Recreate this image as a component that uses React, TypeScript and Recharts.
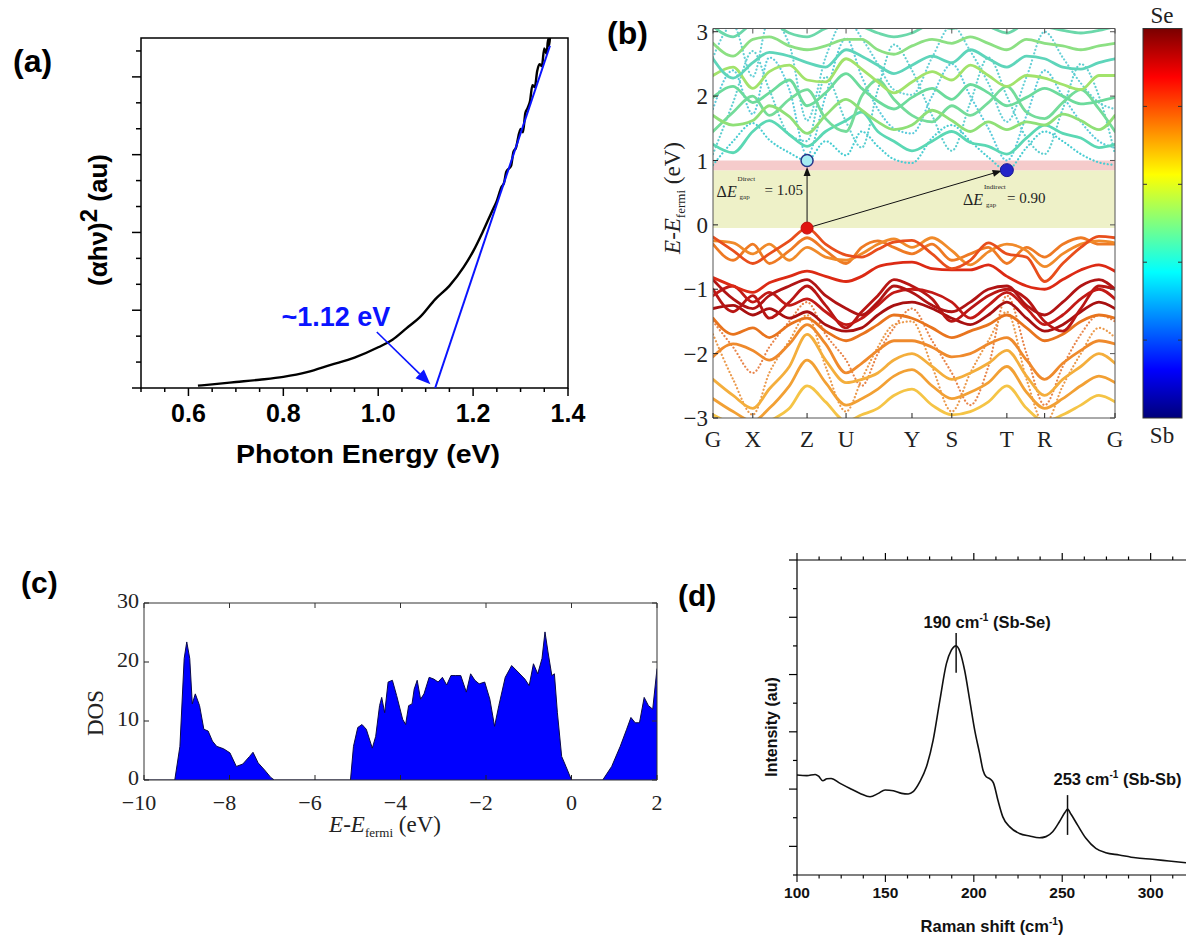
import React from "react";
import {
  Area,
  ComposedChart,
  Line,
  LineChart,
  ReferenceArea,
  ReferenceDot,
  ReferenceLine,
  XAxis,
  YAxis,
} from "recharts";

const SANS = "'Liberation Sans', Arial, sans-serif";
const SERIF = "'Liberation Serif', 'Times New Roman', serif";

// ---------- (a) Tauc plot ----------
const TAUC_E = [
  0.62, 0.65, 0.7, 0.75, 0.8, 0.85, 0.9, 0.95, 1.0, 1.03, 1.06, 1.09, 1.12, 1.15, 1.18, 1.2, 1.22, 1.24, 1.25, 1.26,
  1.265, 1.27, 1.28, 1.285, 1.29, 1.3, 1.305, 1.31, 1.315, 1.32, 1.325, 1.33, 1.335, 1.34, 1.345, 1.35, 1.355, 1.358,
  1.36, 1.362,
];
const TAUC_Y = [
  0.09, 0.14, 0.23, 0.32, 0.43, 0.61, 0.89, 1.17, 1.57, 1.86, 2.31, 2.77, 3.42, 3.94, 4.66, 5.27, 6.01, 6.82, 7.22, 7.76,
  7.9, 8.34, 8.57, 9.11, 9.25, 9.99, 9.86, 10.6, 10.8, 11.07, 11.68, 11.61, 12.22, 12.49, 12.42, 13.1, 12.89, 13.45,
  13.2, 13.5,
];
const GAP_EV = 1.12;
const FIT_E = [GAP_EV, 1.362];
const FIT_Y = [0, 13.2];
const A_X_TICKS = [
  0.5, 0.55, 0.6, 0.65, 0.7, 0.75, 0.8, 0.85, 0.9, 0.95, 1.0, 1.05, 1.1, 1.15, 1.2, 1.25, 1.3, 1.35, 1.4,
];
const A_X_LABELS = [0.6, 0.8, 1.0, 1.2, 1.4];
const A_Y_TICKS = [0, 1, 2, 3, 4, 5, 6, 7, 8, 9, 10, 11, 12, 13];
const A_Y_MAJOR = [0, 3, 6, 9, 12];

// ---------- (b) band structure ----------
const K = [
  0, 0.05, 0.099, 0.14, 0.19, 0.234, 0.28, 0.331, 0.37, 0.41, 0.45, 0.495, 0.545, 0.594, 0.64, 0.685, 0.731, 0.78,
  0.825, 0.87, 0.915, 0.96, 1,
];
const K_POINTS = [0, 0.099, 0.234, 0.331, 0.495, 0.594, 0.731, 0.825, 1];
const K_NAMES = ["G", "X", "Z", "U", "Y", "S", "T", "R", "G"];
const E_TICKS = [-3, -2, -1, 0, 1, 2, 3];

const CB1 = [0.93, 1.3, 1.58, 1.32, 1.12, 1.0, 1.3, 1.08, 1.45, 1.22, 1.02, 0.96, 1.35, 1.55, 1.3, 1.05, 0.85, 1.2, 1.45, 1.3, 1.1, 0.97, 0.93];
const CB2 = [1.25, 1.12, 1.45, 1.62, 1.4, 1.22, 1.45, 1.62, 1.75, 1.45, 1.3, 1.15, 1.3, 1.45, 1.28, 1.22, 1.1, 1.35, 1.55, 1.42, 1.35, 1.2, 1.25];
const CB3 = [1.7, 1.55, 1.62, 1.85, 1.68, 1.42, 1.7, 1.95, 1.78, 1.6, 1.48, 1.55, 1.78, 1.62, 1.45, 1.6, 1.48, 1.6, 1.55, 1.72, 1.62, 1.48, 1.7];
const CB4 = [1.98, 2.15, 1.9, 2.05, 2.25, 1.85, 2.05, 2.35, 2.12, 1.92, 1.8, 1.98, 2.12, 1.95, 2.18, 2.05, 1.85, 1.98, 2.12, 2.0, 1.88, 1.92, 1.98];
const CB5 = [2.32, 2.45, 2.12, 2.38, 2.48, 2.25, 2.22, 2.58, 2.42, 2.22, 2.05, 2.22, 2.38, 2.25, 2.48, 2.32, 2.15, 2.32, 2.28, 2.18, 2.1, 2.32, 2.32];
const CB6 = [2.58, 2.28, 2.52, 2.68, 2.62, 2.52, 2.45, 2.72, 2.62, 2.48, 2.35, 2.48, 2.62, 2.52, 2.72, 2.58, 2.45, 2.62, 2.58, 2.45, 2.42, 2.52, 2.58];
const CB7 = [2.82, 2.62, 2.88, 2.92, 2.78, 2.72, 2.78, 2.88, 2.88, 2.72, 2.65, 2.78, 2.88, 2.82, 2.92, 2.82, 2.72, 2.88, 2.82, 2.78, 2.72, 2.78, 2.82];
const CB8 = [3.08, 2.92, 3.12, 3.15, 2.98, 2.92, 3.05, 3.12, 3.08, 2.98, 2.92, 2.98, 3.12, 3.05, 3.12, 3.08, 2.98, 3.12, 3.08, 3.02, 2.98, 3.02, 3.08];
const CB9 = [1.45, 1.75, 2.0, 1.7, 1.95, 2.1, 1.65, 1.45, 2.0, 2.25, 1.95, 1.7, 1.6, 1.85, 1.7, 1.9, 2.15, 1.75, 1.65, 1.9, 2.1, 1.8, 1.45];
const CBD1 = [1.8, 2.4, 1.72, 2.6, 2.1, 1.08, 2.0, 2.9, 2.3, 1.8, 1.5, 1.42, 2.0, 2.5, 2.0, 1.5, 1.0, 1.7, 2.4, 2.0, 1.6, 1.3, 1.2];
const CBD2 = [2.6, 3.1, 2.3, 3.2, 2.8, 1.62, 2.6, 3.2, 2.9, 2.5, 2.1, 2.02, 2.6, 3.1, 2.7, 2.2, 1.6, 2.3, 3.0, 2.6, 2.2, 1.9, 1.8];
const CBD3 = [1.1, 1.9, 2.7, 2.1, 1.4, 1.3, 2.3, 1.6, 1.2, 2.1, 2.8, 2.4, 1.7, 1.15, 1.9, 2.6, 2.0, 1.35, 1.1, 1.8, 2.5, 2.0, 1.1];

const VB1 = [-0.19, -0.4, -0.6, -0.45, -0.25, -0.05, -0.3, -0.47, -0.5, -0.38, -0.27, -0.24, -0.45, -0.68, -0.55, -0.28, -0.45, -0.5, -0.88, -0.6, -0.35, -0.18, -0.2];
const VB2 = [-0.25, -0.28, -0.45, -0.3, -0.55, -0.35, -0.5, -0.55, -0.45, -0.3, -0.22, -0.35, -0.2, -0.4, -0.62, -0.42, -0.3, -0.4, -0.65, -0.45, -0.3, -0.25, -0.28];
const VB3 = [-0.82, -0.95, -1.05, -0.9, -0.8, -0.72, -0.8, -0.88, -0.8, -0.65, -0.6, -0.58, -0.68, -0.7, -0.7, -0.62, -0.8, -0.95, -1.0, -0.85, -0.7, -0.62, -0.72];
const VB4 = [-0.85, -1.15, -1.3, -1.1, -0.95, -0.85, -1.1, -1.3, -1.4, -1.2, -0.95, -1.05, -1.25, -1.35, -1.2, -1.0, -0.95, -1.25, -1.4, -1.2, -0.95, -0.85, -1.0];
const VB5 = [-1.1, -0.95, -1.2, -1.05, -1.25, -1.15, -1.35, -1.55, -1.45, -1.25, -1.05, -1.0, -1.05, -1.2, -1.45, -1.25, -1.05, -1.3, -1.55, -1.4, -1.15, -1.0, -1.15];
const VB6 = [-1.3, -1.25, -1.4, -1.3, -1.45, -1.35, -1.55, -1.65, -1.6, -1.4, -1.25, -1.2, -1.3, -1.45, -1.55, -1.4, -1.2, -1.45, -1.65, -1.55, -1.35, -1.2, -1.3];
const VB7 = [-1.45, -1.7, -1.6, -1.75, -1.55, -1.45, -1.65, -1.8, -1.7, -1.55, -1.4, -1.45, -1.6, -1.75, -1.65, -1.55, -1.4, -1.6, -1.8, -1.7, -1.5, -1.4, -1.45];
const VB8 = [-2.05, -1.85, -1.95, -2.1, -1.85, -1.55, -1.85, -2.3, -2.15, -1.95, -1.8, -1.8, -1.9, -2.05, -2.0, -1.85, -1.75, -2.1, -2.4, -2.15, -1.95, -1.8, -1.85];
const VB9 = [-2.4, -2.65, -2.85, -2.55, -2.2, -1.7, -2.1, -2.45, -2.4, -2.3, -2.1, -2.0, -2.2, -2.4, -2.3, -2.15, -1.95, -2.35, -2.65, -2.4, -2.2, -2.0, -2.15];
const VB10 = [-2.7, -2.9, -3.05, -2.85, -2.5, -2.1, -2.45, -2.8, -2.7, -2.55, -2.35, -2.25, -2.5, -2.7, -2.6, -2.45, -2.2, -2.6, -2.85, -2.7, -2.5, -2.35, -2.45];
const VB11 = [-2.95, -3.1, -3.2, -3.05, -2.85, -2.5, -2.75, -3.05, -2.95, -2.85, -2.65, -2.55, -2.8, -2.95, -2.9, -2.75, -2.5, -2.85, -3.05, -2.95, -2.8, -2.65, -2.75];
const VB12 = [-1.0, -1.35, -1.1, -1.45, -1.2, -0.95, -1.25, -1.6, -1.35, -1.1, -0.85, -0.95, -1.15, -1.5, -1.3, -1.1, -1.0, -1.15, -1.5, -1.65, -1.3, -0.95, -1.0];
const VB13 = [-0.3, -0.55, -0.3, -0.6, -0.4, -0.2, -0.4, -0.6, -0.35, -0.25, -0.35, -0.45, -0.3, -0.55, -0.45, -0.35, -0.6, -0.35, -0.5, -0.3, -0.2, -0.3, -0.3];
const VBD1 = [-1.5, -1.9, -2.3, -1.9, -1.5, -1.2, -1.7, -2.1, -2.5, -2.0, -1.6, -1.3, -1.8, -2.3, -2.8, -2.2, -1.1, -2.0, -2.8, -2.2, -1.7, -1.4, -1.5];
const VBD2 = [-1.7, -2.4, -2.95, -2.3, -1.8, -1.4, -2.2, -2.9, -2.4, -1.9, -1.55, -1.5, -2.2, -2.9, -2.3, -1.8, -1.35, -2.4, -3.1, -2.5, -2.0, -1.6, -1.75];

const VBM = -0.05;
const CBM_DIRECT = 1.0;
const CBM_INDIRECT = 0.85;
const K_DIRECT = 0.234;
const K_INDIRECT = 0.731;

// ---------- (c) density of states ----------
const DOS_E = [
  -10, -9.28, -9.16, -9.06, -9.0, -8.93, -8.87, -8.8, -8.7, -8.6, -8.5, -8.4, -8.3, -8.14, -7.99, -7.84, -7.69, -7.53,
  -7.45, -7.33, -7.18, -7.03, -6.95, -5.17, -5.1, -5.0, -4.9, -4.8, -4.66, -4.58, -4.49, -4.44, -4.37, -4.29, -4.19,
  -4.09, -3.95, -3.88, -3.81, -3.73, -3.68, -3.61, -3.53, -3.45, -3.33, -3.22, -3.12, -3.02, -2.92, -2.82, -2.72,
  -2.59, -2.46, -2.36, -2.26, -2.16, -2.03, -1.91, -1.8, -1.7, -1.55, -1.4, -1.25, -1.09, -0.99, -0.89, -0.79, -0.69,
  -0.62, -0.55, -0.46, -0.4, -0.33, -0.23, -0.13, 0.0, 0.73, 0.94, 1.14, 1.29, 1.39, 1.49, 1.59, 1.7, 1.8, 1.9, 2.0,
];
const DOS = [
  0, 0, 5.7, 20.6, 23.4, 20.6, 12.9, 14.6, 12.6, 8.6, 8.3, 6.6, 5.7, 5.3, 4.6, 2.3, 2.7, 4.0, 4.7, 2.9, 1.7, 0.4, 0, 0,
  5.7, 8.9, 9.4, 8.6, 5.4, 7.4, 12.6, 14.0, 11.4, 16.6, 16.9, 14.3, 10.3, 9.4, 12.6, 12.9, 15.4, 16.9, 13.7, 14.6,
  17.4, 17.1, 16.6, 17.4, 16.1, 17.7, 17.7, 17.7, 14.9, 18.0, 16.9, 16.3, 16.6, 13.7, 9.1, 12.6, 17.4, 19.4, 18.3,
  17.1, 16.0, 19.7, 18.0, 20.6, 25.1, 21.7, 17.7, 18.0, 11.4, 4.0, 2.3, 0, 0, 2.3, 5.7, 8.6, 10.6, 9.7, 9.7, 14.0,
  12.6, 12.0, 18.9,
];
const C_X_TICKS = [-10, -8, -6, -4, -2, 0, 2];
const C_Y_TICKS = [0, 10, 20, 30];

// ---------- (d) Raman spectrum ----------
const RAMAN_X = [
  100, 105.6, 110.3, 112.2, 114.6, 116.9, 119.3, 124.4, 130, 135.7, 141.3, 146, 149.8, 154.5, 159.2, 162.9, 165.7,
  169.5, 173.2, 177, 180.8, 184.5, 187.3, 190, 192.2, 194.8, 197.7, 200.5, 203.3, 205.2, 207, 209.3, 211.2, 213.6,
  216.4, 220.2, 225.8, 231.5, 237.1, 240.8, 244.6, 248.4, 251.5, 253, 255, 258.7, 263.4, 269, 274.6, 282.2, 291.5, 301,
  310.3, 320,
];
const RAMAN_Y = [
  3.49, 3.47, 3.51, 3.45, 3.29, 3.36, 3.37, 3.2, 3.02, 2.85, 2.73, 2.85, 2.97, 2.94, 2.85, 2.83, 2.91, 3.26, 3.78, 4.71,
  6.1, 7.38, 7.85, 8.0, 7.79, 7.15, 6.1, 5.06, 4.24, 3.66, 3.43, 3.35, 3.2, 2.62, 2.03, 1.69, 1.45, 1.36, 1.3, 1.34,
  1.51, 1.86, 2.18, 2.3, 2.12, 1.74, 1.28, 0.93, 0.78, 0.7, 0.6, 0.55, 0.49, 0.43,
];
const D_X_TICKS = [
  100, 112.5, 125, 137.5, 150, 162.5, 175, 187.5, 200, 212.5, 225, 237.5, 250, 262.5, 275, 287.5, 300, 312.5,
];
const D_X_LABELS = [100, 150, 200, 250, 300];
const D_Y_TICKS = [0, 1, 2, 3, 4, 5, 6, 7, 8, 9, 10, 11];
const PEAK_POS = [190, 253];
const PEAK_BOND = ["Sb-Se", "Sb-Sb"];

// ---------- helpers ----------
type Side = "bottom" | "top" | "left" | "right";
type TickSpec = {
  side: Side;
  len: (v: number) => number; // > 0 points outward, < 0 inward
  text?: (v: number) => string;
  gap?: number;
  dx?: (v: number) => number;
  lift?: number; // baseline offset of side labels, in em
  font?: string;
  size?: number;
  weight?: number | string;
  color?: string;
  width?: number;
};

const has = (list: number[], v: number) => list.some((t) => Math.abs(t - v) < 1e-6);

// axes are 1px thick (a zero-sized axis is not drawn), ticks are drawn here by hand
const makeTick = (s: TickSpec) => (p: any) => {
  const v = Number(p.payload?.value);
  const x = Number(p.x);
  const y = Number(p.y);
  const L = s.len(v);
  const color = s.color ?? "#000";
  const label = s.text ? s.text(v) : "";
  const gap = s.gap ?? 0;
  const size = s.size ?? 12;
  const lift = s.lift ?? 0.35;
  let x2 = x;
  let y2 = y;
  let tx = x;
  let ty = y;
  let anchor: "middle" | "end" | "start" = "middle";
  if (s.side === "bottom") {
    y2 = y + L;
    ty = y + gap;
    tx = x + (s.dx ? s.dx(v) : 0);
  } else if (s.side === "top") {
    y2 = y - L;
    ty = y - gap;
  } else if (s.side === "left") {
    x2 = x - L;
    tx = x - gap;
    ty = y + size * lift;
    anchor = "end";
  } else {
    x2 = x + L;
    tx = x + gap;
    ty = y + size * lift;
    anchor = "start";
  }
  return (
    <g>
      {L !== 0 && <line x1={x} y1={y} x2={x2} y2={y2} stroke={color} strokeWidth={s.width ?? 1} />}
      {label ? (
        <text x={tx} y={ty} textAnchor={anchor} fontFamily={s.font} fontSize={size} fontWeight={s.weight} fill={color}>
          {label}
        </text>
      ) : null}
    </g>
  );
};

const arrowShape = (color: string, head: number, w: number, lw: number) => (p: any) => {
  const { x1, y1, x2, y2 } = p;
  const ang = Math.atan2(y2 - y1, x2 - x1);
  const bx = x2 - head * Math.cos(ang);
  const by = y2 - head * Math.sin(ang);
  const nx = (-Math.sin(ang) * w) / 2;
  const ny = (Math.cos(ang) * w) / 2;
  return (
    <g>
      <line x1={x1} y1={y1} x2={bx} y2={by} stroke={color} strokeWidth={lw} />
      <polygon points={`${x2},${y2} ${bx + nx},${by + ny} ${bx - nx},${by - ny}`} fill={color} />
    </g>
  );
};

const minus = (v: number) => (v < 0 ? `\u2212${Math.abs(v)}` : `${v}`);

const axisBase = {
  interval: 0 as const,
  allowDataOverflow: true,
  tickSize: 0,
  tickMargin: 0,
  tickLine: false,
};

// ---------- panels ----------
function TaucPanel() {
  const tauc = TAUC_E.map((e, i) => ({ e, y: TAUC_Y[i] }));
  const fit = FIT_E.map((e, i) => ({ e, y: FIT_Y[i] }));
  return (
    <ComposedChart width={600} height={480} margin={{ top: 38, right: 32, bottom: 91, left: 140 }}>
      <XAxis
        {...axisBase}
        dataKey="e"
        type="number"
        domain={[0.5, 1.4]}
        ticks={A_X_TICKS}
        height={1}
        axisLine={false}
        tick={makeTick({
          side: "bottom",
          len: (v) => (has(A_X_LABELS, v) ? 8 : 4),
          text: (v) => (has(A_X_LABELS, v) ? v.toFixed(1) : ""),
          gap: 34,
          font: SANS,
          size: 25,
          weight: "bold",
          width: 1.5,
        })}
      />
      <YAxis
        {...axisBase}
        type="number"
        domain={[0, 13.5]}
        ticks={A_Y_TICKS}
        width={1}
        axisLine={false}
        tick={makeTick({ side: "left", len: (v) => (has(A_Y_MAJOR, v) ? 9 : 5), width: 1.5 })}
      />
      <ReferenceArea x1={0.5} x2={1.4} y1={0} y2={13.5} fill="none" stroke="#000" strokeWidth={1.5} />
      <Line data={tauc} dataKey="y" type="monotone" stroke="#000" strokeWidth={2.4} dot={false} isAnimationActive={false} />
      <Line data={fit} dataKey="y" type="linear" stroke="#0a14ff" strokeWidth={2} dot={false} isAnimationActive={false} />
      <ReferenceLine
        segment={[
          { x: 0.997, y: 2.16 },
          { x: 1.11, y: 0.14 },
        ]}
        shape={arrowShape("#0a14ff", 15, 12, 1.6)}
      />
      <ReferenceDot
        x={0.796}
        y={2.39}
        r={0}
        shape={(p: any) => (
          <text x={p.cx} y={p.cy} fontFamily={SANS} fontSize={27} fontWeight="bold" fill="#0a14ff">
            {`~${GAP_EV.toFixed(2)} eV`}
          </text>
        )}
      />
    </ComposedChart>
  );
}

const BANDS = [
  { id: "cb1", e: CB1, color: "#49cdd2", dotted: true },
  { id: "cbd1", e: CBD1, color: "#5ccbdc", dotted: true },
  { id: "cbd2", e: CBD2, color: "#66d0d6", dotted: true },
  { id: "cbd3", e: CBD3, color: "#5fcfd0", dotted: true },
  { id: "cb2", e: CB2, color: "#5bd8b4" },
  { id: "cb9", e: CB9, color: "#74dc9a" },
  { id: "cb3", e: CB3, color: "#8fe077" },
  { id: "cb4", e: CB4, color: "#6cdb9c" },
  { id: "cb5", e: CB5, color: "#a2e36b" },
  { id: "cb6", e: CB6, color: "#5ed5ba" },
  { id: "cb7", e: CB7, color: "#8ce083" },
  { id: "cb8", e: CB8, color: "#6bd8aa" },
  { id: "vbd1", e: VBD1, color: "#e8844a", dotted: true },
  { id: "vbd2", e: VBD2, color: "#eb9a4c", dotted: true },
  { id: "vb11", e: VB11, color: "#f5c446" },
  { id: "vb10", e: VB10, color: "#f2a034" },
  { id: "vb9", e: VB9, color: "#f4ae3c" },
  { id: "vb8", e: VB8, color: "#ef8a2c" },
  { id: "vb7", e: VB7, color: "#e8741e" },
  { id: "vb6", e: VB6, color: "#a81010" },
  { id: "vb12", e: VB12, color: "#b81614" },
  { id: "vb5", e: VB5, color: "#c21a16" },
  { id: "vb4", e: VB4, color: "#b01414" },
  { id: "vb3", e: VB3, color: "#dc2a14" },
  { id: "vb13", e: VB13, color: "#ee7a24" },
  { id: "vb2", e: VB2, color: "#f08a2a" },
  { id: "vb1", e: VB1, color: "#e84e1c" },
];

const gapText = (kind: string, value: string, valueDx: number) => (p: any) => (
  <text fontFamily={SERIF} fill="#222">
    <tspan x={p.cx} y={p.cy} fontSize={16}>
      Δ<tspan fontStyle="italic">E</tspan>
    </tspan>
    <tspan x={p.cx + 21} y={p.cy - 16} fontSize={7}>
      {kind}
    </tspan>
    <tspan x={p.cx + 23} y={p.cy + 2} fontSize={7}>
      gap
    </tspan>
    <tspan x={p.cx + valueDx} y={p.cy - 2} fontSize={15}>
      {`= ${value}`}
    </tspan>
  </text>
);

function BandPanel() {
  const rows = K.map((k, i) => {
    const r: Record<string, number> = { k };
    BANDS.forEach((b) => (r[b.id] = b.e[i]));
    return r;
  });
  const edge = "#555";
  const inward = () => -5;
  return (
    <LineChart width={530} height={470} data={rows} margin={{ top: 27.5, right: 14, bottom: 51, left: 112 }}>
      <XAxis
        {...axisBase}
        dataKey="k"
        type="number"
        domain={[0, 1]}
        ticks={K_POINTS}
        height={1}
        axisLine={{ stroke: edge }}
        tick={makeTick({
          side: "bottom",
          len: inward,
          text: (v) => K_NAMES[K_POINTS.findIndex((t) => Math.abs(t - v) < 1e-6)] ?? "",
          gap: 29,
          font: SERIF,
          size: 23,
          color: "#222",
        })}
      />
      <XAxis
        {...axisBase}
        xAxisId="top"
        orientation="top"
        dataKey="k"
        type="number"
        domain={[0, 1]}
        ticks={K_POINTS}
        height={1}
        axisLine={{ stroke: edge }}
        tick={makeTick({ side: "top", len: inward, color: edge })}
      />
      <YAxis
        {...axisBase}
        type="number"
        domain={[-3, 3.05]}
        ticks={E_TICKS}
        width={1}
        axisLine={{ stroke: edge }}
        tick={makeTick({ side: "left", len: inward, text: minus, gap: 5, font: SERIF, size: 23, color: "#222" })}
      />
      <YAxis
        {...axisBase}
        yAxisId="right"
        orientation="right"
        type="number"
        domain={[-3, 3.05]}
        ticks={E_TICKS}
        width={1}
        axisLine={{ stroke: edge }}
        tick={makeTick({ side: "right", len: inward, color: edge })}
      />
      <ReferenceArea y1={VBM} y2={CBM_INDIRECT} fill="#eef1c8" fillOpacity={1} stroke="none" />
      <ReferenceArea y1={CBM_INDIRECT} y2={CBM_DIRECT} fill="#f5cbcb" fillOpacity={1} stroke="none" />
      {BANDS.map((b) => (
        <Line
          key={b.id}
          dataKey={b.id}
          type="monotone"
          stroke={b.color}
          strokeWidth={b.dotted ? 2.2 : 2.8}
          strokeDasharray={b.dotted ? "0.1 3.6" : undefined}
          strokeLinecap="round"
          dot={false}
          isAnimationActive={false}
        />
      ))}
      <Line xAxisId="top" yAxisId="right" dataKey="vb1" stroke="none" dot={false} isAnimationActive={false} />
      <ReferenceLine
        segment={[
          { x: K_DIRECT, y: VBM },
          { x: K_DIRECT, y: CBM_DIRECT - 0.1 },
        ]}
        shape={arrowShape("#111", 9, 7, 1)}
      />
      <ReferenceLine
        segment={[
          { x: K_DIRECT, y: VBM },
          { x: K_INDIRECT - 0.013, y: CBM_INDIRECT - 0.01 },
        ]}
        shape={arrowShape("#111", 9, 7, 1)}
      />
      <ReferenceDot x={K_DIRECT} y={VBM} r={6} fill="#e01510" stroke="#c01010" />
      <ReferenceDot x={K_DIRECT} y={CBM_DIRECT} r={6} fill="#a6ecf2" stroke="#25358a" strokeWidth={1.5} />
      <ReferenceDot x={K_INDIRECT} y={CBM_INDIRECT} r={6.5} fill="#2424c8" stroke="#1a1a90" />
      <ReferenceDot x={0.009} y={0.43} r={0} shape={gapText("Direct", (CBM_DIRECT - VBM).toFixed(2), 48)} />
      <ReferenceDot x={0.622} y={0.31} r={0} shape={gapText("Indirect", (CBM_INDIRECT - VBM).toFixed(2), 44)} />
    </LineChart>
  );
}

function DosPanel() {
  const rows = DOS_E.map((e, i) => ({ e, dos: DOS[i] }));
  const edge = "#333";
  const inward = () => -5;
  return (
    <ComposedChart width={680} height={280} data={rows} margin={{ top: 42, right: 22, bottom: 59, left: 143 }}>
      <XAxis
        {...axisBase}
        dataKey="e"
        type="number"
        domain={[-10, 2]}
        ticks={C_X_TICKS}
        height={1}
        axisLine={{ stroke: edge }}
        tick={makeTick({
          side: "bottom",
          len: inward,
          text: minus,
          dx: (v) => (v < 0 ? -5 : 0),
          gap: 30,
          font: SERIF,
          size: 22,
          color: "#222",
        })}
      />
      <XAxis
        {...axisBase}
        xAxisId="top"
        orientation="top"
        dataKey="e"
        type="number"
        domain={[-10, 2]}
        ticks={C_X_TICKS}
        height={1}
        axisLine={{ stroke: edge }}
        tick={makeTick({ side: "top", len: inward, color: edge })}
      />
      <YAxis
        {...axisBase}
        type="number"
        domain={[0, 30]}
        ticks={C_Y_TICKS}
        width={1}
        axisLine={{ stroke: edge }}
        tick={makeTick({
          side: "left",
          len: inward,
          text: minus,
          gap: 5,
          lift: 0.22,
          font: SERIF,
          size: 22,
          color: "#222",
        })}
      />
      <YAxis
        {...axisBase}
        yAxisId="right"
        orientation="right"
        type="number"
        domain={[0, 30]}
        ticks={C_Y_TICKS}
        width={1}
        axisLine={{ stroke: edge }}
        tick={makeTick({ side: "right", len: inward, color: edge })}
      />
      <Area
        dataKey="dos"
        type="linear"
        fill="#0000ff"
        fillOpacity={1}
        stroke="#0a0a48"
        strokeWidth={1}
        dot={false}
        isAnimationActive={false}
      />
      <Line xAxisId="top" yAxisId="right" dataKey="dos" stroke="none" dot={false} isAnimationActive={false} />
    </ComposedChart>
  );
}

const peakLabel = (pos: number, bond: string) => (p: any) => (
  <text x={p.cx} y={p.cy} textAnchor="middle" fontFamily={SANS} fontSize={16.5} fontWeight="bold" fill="#111">
    {`${pos} cm`}
    <tspan fontSize={10} dy={-7}>
      -1
    </tspan>
    <tspan dy={7}>{` (${bond})`}</tspan>
  </text>
);

function RamanPanel() {
  const rows = RAMAN_X.map((x, i) => ({ x, y: RAMAN_Y[i] }));
  const xTick = (v: number) => (has(D_X_LABELS, v) ? 7 : 3.5);
  return (
    <LineChart width={471} height={400} data={rows} margin={{ top: 19, right: 5, bottom: 64, left: 76 }}>
      <XAxis
        {...axisBase}
        dataKey="x"
        type="number"
        domain={[100, 320]}
        ticks={D_X_TICKS}
        height={1}
        axisLine={{ stroke: "#000", strokeWidth: 1.2 }}
        tick={makeTick({
          side: "bottom",
          len: xTick,
          text: (v) => (has(D_X_LABELS, v) ? `${v}` : ""),
          gap: 23,
          font: SANS,
          size: 15.5,
          weight: "bold",
          color: "#111",
          width: 1.2,
        })}
      />
      <XAxis
        {...axisBase}
        xAxisId="top"
        orientation="top"
        dataKey="x"
        type="number"
        domain={[100, 320]}
        ticks={D_X_TICKS}
        height={1}
        axisLine={{ stroke: "#000", strokeWidth: 1.2 }}
        tick={makeTick({ side: "top", len: xTick, width: 1.2 })}
      />
      <YAxis
        {...axisBase}
        type="number"
        domain={[0, 11]}
        ticks={D_Y_TICKS}
        width={1}
        axisLine={{ stroke: "#000", strokeWidth: 1.2 }}
        tick={makeTick({ side: "left", len: (v) => (v % 2 === 1 ? 8 : 4), width: 1.2 })}
      />
      <Line dataKey="y" type="monotone" stroke="#111" strokeWidth={1.6} dot={false} isAnimationActive={false} />
      <Line xAxisId="top" dataKey="y" stroke="none" dot={false} isAnimationActive={false} />
      <ReferenceLine
        segment={[
          { x: PEAK_POS[0], y: 7.06 },
          { x: PEAK_POS[0], y: 8.45 },
        ]}
        stroke="#111"
        strokeWidth={1.5}
      />
      <ReferenceLine
        segment={[
          { x: PEAK_POS[1], y: 1.4 },
          { x: PEAK_POS[1], y: 2.79 },
        ]}
        stroke="#111"
        strokeWidth={1.5}
      />
      <ReferenceDot x={207.5} y={8.62} r={0} shape={peakLabel(PEAK_POS[0], PEAK_BOND[0])} />
      <ReferenceDot x={281.3} y={3.14} r={0} shape={peakLabel(PEAK_POS[1], PEAK_BOND[1])} />
    </LineChart>
  );
}

// panel letters, axis titles and the composition colour bar
function Overlay() {
  const barTop = 28.5;
  const barH = 389.5;
  return (
    <svg width={1191} height={940} style={{ position: "absolute", left: 0, top: 0, pointerEvents: "none" }}>
      <defs>
        <linearGradient id="jet" x1="0" y1="0" x2="0" y2="1">
          <stop offset="0" stopColor="#7a0000" />
          <stop offset="0.125" stopColor="#ff0000" />
          <stop offset="0.375" stopColor="#ffff00" />
          <stop offset="0.625" stopColor="#00ffff" />
          <stop offset="0.875" stopColor="#0000ff" />
          <stop offset="1" stopColor="#00007a" />
        </linearGradient>
      </defs>

      <g fontFamily={SANS} fontWeight="bold" fill="#000">
        <text x={13} y={72} fontSize={32}>(a)</text>
        <text x={607} y={44} fontSize={32}>(b)</text>
        <text x={21} y={593} fontSize={30}>(c)</text>
        <text x={678} y={606} fontSize={30}>(d)</text>
      </g>

      {/* (a) titles */}
      <text x={368} y={463} textAnchor="middle" fontFamily={SANS} fontSize={26} fontWeight="bold" textLength={264} lengthAdjust="spacingAndGlyphs">
        Photon Energy (eV)
      </text>
      <text transform="translate(107,220) rotate(-90)" textAnchor="middle" fontFamily={SANS} fontSize={26} fontWeight="bold">
        (αhν)
        <tspan dy={-10} fontSize={24}>2</tspan>
        <tspan dy={10}> (au)</tspan>
      </text>

      {/* (b) title and colour bar */}
      <text transform="translate(680,198) rotate(-90)" textAnchor="middle" fontFamily={SERIF} fontSize={23} fill="#222">
        <tspan fontStyle="italic">E</tspan>-<tspan fontStyle="italic">E</tspan>
        <tspan fontSize={13} dy={5}>fermi</tspan>
        <tspan dy={-5}> (eV)</tspan>
      </text>
      <rect x={1143} y={barTop} width={39} height={barH} fill="url(#jet)" stroke="#333" strokeWidth={1} />
      {[0.2, 0.4, 0.6, 0.8].map((f) => (
        <g key={f} stroke="#333" strokeWidth={1}>
          <line x1={1143} x2={1147} y1={barTop + barH * f} y2={barTop + barH * f} />
          <line x1={1178} x2={1182} y1={barTop + barH * f} y2={barTop + barH * f} />
        </g>
      ))}
      <text x={1162} y={23} textAnchor="middle" fontFamily={SERIF} fontSize={23} fill="#222">Se</text>
      <text x={1162} y={443} textAnchor="middle" fontFamily={SERIF} fontSize={23} fill="#222">Sb</text>

      {/* (c) titles */}
      <text transform="translate(103,713) rotate(-90)" textAnchor="middle" fontFamily={SERIF} fontSize={23} fill="#222">
        DOS
      </text>
      <text x={385} y={832} textAnchor="middle" fontFamily={SERIF} fontSize={23} fill="#222">
        <tspan fontStyle="italic">E</tspan>-<tspan fontStyle="italic">E</tspan>
        <tspan fontSize={13} dy={5}>fermi</tspan>
        <tspan dy={-5}> (eV)</tspan>
      </text>

      {/* (d) titles */}
      <text transform="translate(777,727) rotate(-90)" textAnchor="middle" fontFamily={SANS} fontSize={16} fontWeight="bold" fill="#111">
        Intensity (au)
      </text>
      <text x={992} y={932} textAnchor="middle" fontFamily={SANS} fontSize={16.5} fontWeight="bold" fill="#111">
        Raman shift (cm
        <tspan fontSize={10} dy={-7}>-1</tspan>
        <tspan dy={7}>)</tspan>
      </text>
    </svg>
  );
}

export default function App() {
  return (
    <div style={{ position: "absolute", left: 0, top: 0, width: 1191, height: 940, background: "#fff", overflow: "hidden" }}>
      <div style={{ position: "absolute", left: 0, top: 0 }}>
        <TaucPanel />
      </div>
      <div style={{ position: "absolute", left: 600, top: 0 }}>
        <BandPanel />
      </div>
      <div style={{ position: "absolute", left: 0, top: 560 }}>
        <DosPanel />
      </div>
      <div style={{ position: "absolute", left: 720, top: 540 }}>
        <RamanPanel />
      </div>
      <Overlay />
    </div>
  );
}
